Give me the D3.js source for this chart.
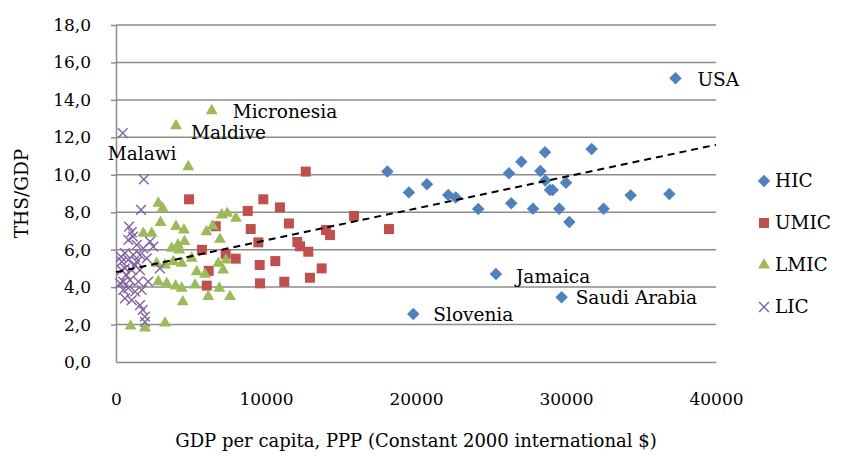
<!DOCTYPE html>
<meta charset="utf-8">
<html>
<script src="https://d3js.org/d3.v7.min.js"></script>
<style>
    body { margin: 0; background: #fff; }
    text { font-family: "DejaVu Serif", serif; fill: #000; }
</style>
<body>
<div id="chart"></div>
<script>
    // values: [GDP per capita, THS/GDP]
    var hic = [[37300, 15.15], [18090, 10.17], [19530, 9.06], [20730, 9.49], [22150, 8.92],
        [22650, 8.78], [24150, 8.17], [26200, 10.08], [27020, 10.70], [28600, 11.2],
        [28290, 10.2], [28620, 9.69], [28930, 9.19], [29110, 9.19], [30000, 9.58],
        [26350, 8.48], [27800, 8.19], [29550, 8.19], [30220, 7.48], [31710, 11.38],
        [32510, 8.19], [34310, 8.9], [36890, 8.97], [25330, 4.70], [19820, 2.56], [29710, 3.46]];
    var umic = [[4870, 8.69], [6650, 7.25], [5730, 5.99], [7310, 5.77], [6180, 4.87],
        [6050, 4.08], [7980, 5.52], [8780, 8.07], [8980, 7.10], [9820, 8.69],
        [10930, 8.26], [11530, 7.40], [12650, 10.17], [15870, 7.80], [14000, 7.05],
        [14270, 6.78], [9490, 6.39], [12090, 6.41], [12270, 6.18], [12820, 5.89],
        [9580, 5.18], [10620, 5.39], [13710, 5.00], [9600, 4.20], [11220, 4.29],
        [12930, 4.50], [18200, 7.10]];
    var lmic = [[6380, 13.42], [4000, 12.62], [4820, 10.43], [2820, 8.48], [3110, 8.21],
        [2970, 7.45], [4000, 7.24], [4530, 7.05], [1820, 6.87], [2380, 6.87],
        [6030, 6.96], [6450, 7.26], [7050, 7.85], [7420, 7.94], [8000, 7.68],
        [6930, 6.55], [4570, 6.43], [4130, 6.25], [3710, 6.07], [4220, 5.98],
        [5050, 5.54], [3820, 5.36], [4380, 5.27], [3270, 5.18], [2710, 5.27],
        [6820, 5.27], [7330, 5.45], [5380, 4.82], [5930, 4.68], [7150, 4.91],
        [2820, 4.29], [3380, 4.19], [3970, 4.06], [4380, 3.94], [5270, 4.11],
        [6890, 3.94], [4450, 3.21], [6150, 3.49], [7600, 3.49], [970, 1.92],
        [1930, 1.82], [3270, 2.08]];
    var lic = [[450, 12.22], [1850, 9.75], [1670, 8.12], [870, 7.23], [1050, 6.94],
        [820, 6.52], [1380, 6.25], [2270, 6.43], [2490, 6.16], [1820, 6.07],
        [600, 5.81], [1150, 5.72], [1600, 5.72], [380, 5.36], [820, 5.45],
        [1380, 5.36], [2050, 5.54], [2930, 5.0], [600, 5.0], [1050, 4.91],
        [1600, 4.91], [2150, 4.29], [490, 4.29], [930, 4.38], [1490, 4.29],
        [490, 3.85], [820, 3.94], [1270, 3.76], [1710, 3.85], [600, 3.4],
        [1050, 3.31], [1600, 3.04], [1780, 2.78], [1930, 2.42], [1930, 2.14],
        [1130, 6.7], [330, 5.62], [380, 4.91], [270, 4.2], [670, 4.65], [1270, 5.18]];

    var seriesNames = ["HIC", "UMIC", "LMIC", "LIC"];
    var seriesColors = ["#4f81bd", "#c0504d", "#9bbb59", "#8064a2"];
    var yTicks = [0, 2, 4, 6, 8, 10, 12, 14, 16, 18];
    var xTicks = [0, 10000, 20000, 30000, 40000];
    var trend = [[0, 4.8], [40000, 11.6]];
    var labels = [
        { name: "USA", x: 37300, y: 15.15 },
        { name: "Micronesia", x: 6380, y: 13.42 },
        { name: "Maldive", x: 4000, y: 12.62 },
        { name: "Malawi", x: 450, y: 12.22 },
        { name: "Jamaica", x: 25330, y: 4.70 },
        { name: "Saudi Arabia", x: 29710, y: 3.46 },
        { name: "Slovenia", x: 19820, y: 2.56 }
    ];

    var margin = { top: 25, left: 116 },
        width = 600,
        height = 337;

    var svg = d3.select("#chart")
        .append("svg")
        .attr("width", 861)
        .attr("height", 457);
    var g = svg.append("g")
        .attr("transform", "translate(" + margin.left + "," + margin.top + ")");

    var x = d3.scaleLinear().domain([0, 40000]).range([0, width]);
    var y = d3.scaleLinear().domain([0, 18]).range([height, 0]);

    // horizontal gridlines
    g.append("g").selectAll("line")
        .data(yTicks.slice(1))
        .join("line")
        .attr("x1", 0).attr("x2", width)
        .attr("y1", function (d) { return y(d); })
        .attr("y2", function (d) { return y(d); })
        .attr("stroke", "#8c8c8c")
        .attr("stroke-width", 1.5);

    var locale = d3.formatLocale({ decimal: ",", thousands: ".", grouping: [3], currency: ["", "$"] });

    var yAxis = g.append("g")
        .call(d3.axisLeft(y).tickValues(yTicks).tickSize(5).tickSizeOuter(0)
            .tickPadding(20).tickFormat(locale.format(".1f")));
    var xAxis = g.append("g")
        .attr("transform", "translate(0," + height + ")")
        .call(d3.axisBottom(x).tickValues(xTicks).tickSize(0).tickSizeOuter(0)
            .tickPadding(31).tickFormat(d3.format("d")));

    [yAxis, xAxis].forEach(function (a) {
        a.select(".domain").attr("stroke", "#8c8c8c").attr("stroke-width", 1.5);
        a.selectAll(".tick line").attr("stroke", "#8c8c8c").attr("stroke-width", 1.5);
        a.selectAll("text").style("font-family", "DejaVu Serif").style("font-size", "17px").attr("fill", "#000");
    });
    yAxis.selectAll(".tick").filter(function (d) { return d === 0; }).select("line").remove();

    // marker shapes for each series
    var shapes = [
        d3.symbol(d3.symbolSquare, 78),
        d3.symbol(d3.symbolSquare, 100),
        d3.symbol(d3.symbolTriangle, 62),
        d3.symbol(d3.symbolTimes, 64)
    ];
    var rotate = [45, 0, 0, 0];

    function drawMarker(sel, i) {
        sel.attr("d", shapes[i]());
        if (i === 3) {
            sel.attr("fill", "none").attr("stroke", seriesColors[i]).attr("stroke-width", 1.4);
        } else {
            sel.attr("fill", seriesColors[i]);
        }
    }

    [hic, umic, lmic, lic].forEach(function (data, i) {
        g.append("g").selectAll("path")
            .data(data)
            .join("path")
            .attr("transform", function (d) {
                return "translate(" + x(d[0]) + "," + y(d[1]) + ") rotate(" + rotate[i] + ")";
            })
            .call(drawMarker, i);
    });

    // linear trend line
    var line = d3.line()
        .x(function (d) { return x(d[0]); })
        .y(function (d) { return y(d[1]); });
    g.append("path")
        .datum(trend)
        .attr("d", line)
        .attr("fill", "none")
        .attr("stroke", "#000")
        .attr("stroke-width", 2)
        .attr("stroke-dasharray", "7,5");

    // country labels
    var labelOffsets = {
        "USA": [22, 8], "Micronesia": [21, 7], "Maldive": [15, 13], "Malawi": [-15, 27],
        "Jamaica": [20, 9], "Saudi Arabia": [14, 7], "Slovenia": [20, 7]
    };
    g.append("g").selectAll("text")
        .data(labels)
        .join("text")
        .attr("x", function (d) { return x(d.x) + labelOffsets[d.name][0]; })
        .attr("y", function (d) { return y(d.y) + labelOffsets[d.name][1]; })
        .style("font-size", "18.5px")
        .text(function (d) { return d.name; });

    // axis titles
    svg.append("text")
        .attr("x", margin.left + width / 2)
        .attr("y", 447)
        .attr("text-anchor", "middle")
        .style("font-size", "18px")
        .text("GDP per capita, PPP (Constant 2000 international $)");
    svg.append("text")
        .attr("transform", "translate(28," + (margin.top + height / 2) + ") rotate(-90)")
        .attr("text-anchor", "middle")
        .style("font-size", "18.5px")
        .text("THS/GDP");

    // legend
    var legend = svg.append("g").selectAll("g")
        .data(seriesNames)
        .join("g")
        .attr("transform", function (d, i) { return "translate(764," + (181 + i * 42) + ")"; });
    legend.append("path")
        .attr("transform", function (d, i) { return "rotate(" + rotate[i] + ")"; })
        .each(function (d, i) { d3.select(this).call(drawMarker, i); });
    legend.append("text")
        .attr("x", 11)
        .attr("dy", "0.35em")
        .style("font-size", "18.5px")
        .text(function (d) { return d; });
</script>
</body>
</html>
